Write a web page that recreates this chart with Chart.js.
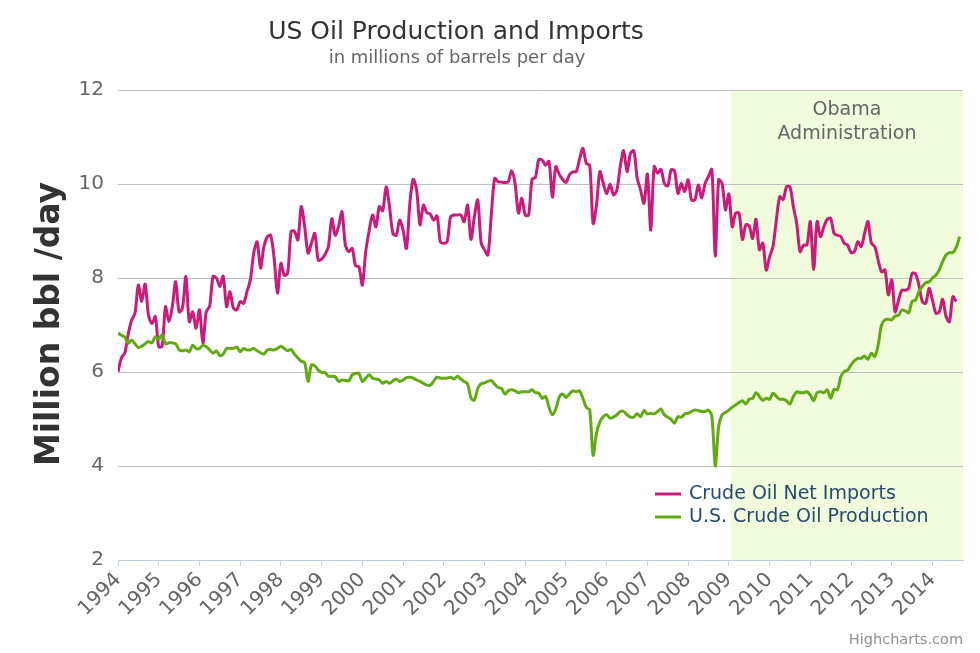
<!DOCTYPE html>
<html>
<head>
<meta charset="utf-8">
<script src="https://cdn.jsdelivr.net/npm/chart.js@4/dist/chart.umd.min.js"></script>
<style>
  html, body { margin: 0; padding: 0; background: #fff; }
</style>
</head>
<body>
<canvas id="oilChart" width="980" height="653"></canvas>
<script>
// monthly values, index 0 = Jan 1994
const yearLabels = ["1994", "1995", "1996", "1997", "1998", "1999", "2000", "2001", "2002", "2003", "2004",
  "2005", "2006", "2007", "2008", "2009", "2010", "2011", "2012", "2013", "2014"];
const yTicks = [2, 4, 6, 8, 10, 12];
const seriesNames = ["Crude Oil Net Imports", "U.S. Crude Oil Production"];

const netImports = [
  6.0, 6.3, 6.4, 6.8, 7.1, 7.25, 7.85, 7.5, 7.87, 7.2, 7.03, 7.18,
  6.54, 6.55, 7.39, 7.07, 7.39, 7.92, 7.28, 7.36, 8.03, 7.07, 7.28, 6.93,
  7.32, 6.61, 7.28, 7.4, 8.03, 8.0, 7.82, 8.04, 7.39, 7.71, 7.36, 7.32,
  7.5, 7.46, 7.71, 7.96, 8.53, 8.77, 8.21, 8.67, 8.88, 8.91, 8.42, 7.68,
  8.31, 8.06, 8.1, 8.99, 8.99, 8.81, 9.52, 9.09, 8.53, 8.74, 8.95, 8.38,
  8.4, 8.5, 8.67, 9.26, 8.91, 9.1, 9.41, 8.7, 8.56, 8.63, 8.26, 8.24,
  7.85, 8.56, 9.0, 9.34, 9.09, 9.52, 9.43, 9.94, 9.52, 8.95, 8.91, 9.23,
  9.02, 8.63, 9.59, 10.1, 9.87, 9.13, 9.55, 9.39, 9.36, 9.23, 9.32, 8.77,
  8.74, 8.78, 9.3, 9.34, 9.34, 9.34, 9.2, 9.55, 8.82, 9.3, 9.66, 8.75,
  8.6, 8.49, 9.34, 10.12, 10.05, 10.04, 10.03, 10.05, 10.28, 10.01, 9.38, 9.7,
  9.34, 9.34, 10.1, 10.14, 10.52, 10.51, 10.4, 10.48, 9.72, 10.37, 10.21, 10.1,
  10.03, 10.19, 10.26, 10.26, 10.53, 10.76, 10.44, 10.4, 9.16, 9.55, 10.26, 10.01,
  9.79, 10.0, 9.77, 9.87, 10.37, 10.71, 10.26, 10.65, 10.71, 10.12, 9.87, 9.59,
  10.21, 9.02, 10.37, 10.23, 10.31, 10.01, 9.96, 10.3, 10.28, 9.8, 10.01, 9.84,
  10.09, 9.66, 9.66, 9.98, 9.7, 10.01, 10.16, 10.31, 8.47, 10.09, 10.01, 9.45,
  9.79, 9.09, 9.38, 9.38, 8.82, 9.13, 9.11, 8.84, 9.25, 8.6, 8.74, 8.17,
  8.45, 8.67, 9.23, 9.73, 9.67, 9.94, 9.94, 9.52, 9.16, 8.56, 8.7, 8.7,
  9.2, 8.18, 9.2, 8.88, 9.09, 9.25, 9.27, 8.95, 8.91, 8.88, 8.74, 8.7,
  8.54, 8.56, 8.77, 8.67, 8.95, 9.2, 8.74, 8.67, 8.38, 8.13, 8.17, 7.64,
  7.96, 7.28, 7.53, 7.74, 7.74, 7.78, 8.1, 8.09, 7.85, 7.5, 7.46, 7.78,
  7.53, 7.25, 7.28, 7.55, 7.18, 7.07, 7.6, 7.5
];

const production = [
  6.83, 6.78, 6.74, 6.61, 6.68, 6.6, 6.52, 6.55, 6.6, 6.65, 6.62, 6.75,
  6.7, 6.79, 6.6, 6.62, 6.62, 6.6, 6.47, 6.45, 6.47, 6.43, 6.57, 6.5,
  6.5, 6.57, 6.54, 6.47, 6.4, 6.45, 6.35, 6.38, 6.5, 6.5, 6.5, 6.53,
  6.43, 6.5, 6.47, 6.47, 6.5, 6.45, 6.41, 6.38, 6.47, 6.48, 6.47, 6.5,
  6.55, 6.5, 6.45, 6.48, 6.38, 6.3, 6.23, 6.2, 5.8, 6.15, 6.13, 6.04,
  5.99, 5.99, 5.91, 5.91, 5.9, 5.8, 5.83, 5.82, 5.81, 5.94, 5.97, 5.97,
  5.8, 5.87, 5.94, 5.87, 5.85, 5.83, 5.76, 5.8, 5.76, 5.81, 5.85, 5.8,
  5.83, 5.88, 5.89, 5.87, 5.83, 5.8, 5.76, 5.72, 5.72, 5.8, 5.89, 5.87,
  5.87, 5.87, 5.89, 5.85, 5.91, 5.85, 5.8, 5.75, 5.45, 5.4, 5.65, 5.75,
  5.77, 5.8, 5.82, 5.74, 5.67, 5.65, 5.53, 5.6, 5.62, 5.6, 5.56, 5.58,
  5.58, 5.58, 5.62, 5.56, 5.55, 5.44, 5.48, 5.25, 5.09, 5.21, 5.46, 5.53,
  5.46, 5.53, 5.6, 5.58, 5.6, 5.44, 5.25, 5.19, 4.23, 4.7, 4.94, 5.05,
  5.09, 5.02, 5.04, 5.09, 5.16, 5.16, 5.09, 5.04, 5.04, 5.11, 5.05, 5.18,
  5.11, 5.12, 5.11, 5.16, 5.21, 5.09, 5.04, 4.99, 4.91, 5.05, 5.04, 5.11,
  5.12, 5.16, 5.19, 5.18, 5.16, 5.16, 5.19, 5.05, 4.0, 4.84, 5.09, 5.14,
  5.19, 5.25, 5.3, 5.35, 5.39, 5.32, 5.42, 5.44, 5.56, 5.48, 5.4, 5.44,
  5.42, 5.55, 5.48, 5.42, 5.42, 5.39, 5.32, 5.48, 5.58, 5.56, 5.56, 5.58,
  5.51, 5.39, 5.56, 5.58, 5.56, 5.62, 5.44, 5.63, 5.62, 5.9, 6.01, 6.04,
  6.15, 6.24, 6.29, 6.29, 6.34, 6.27, 6.4, 6.33, 6.57, 7.0, 7.11, 7.12,
  7.11, 7.19, 7.21, 7.32, 7.3, 7.26, 7.5, 7.53, 7.71, 7.82, 7.9, 7.92,
  8.0, 8.06, 8.17, 8.35, 8.49, 8.54, 8.54, 8.65, 8.88
];

// Jan 20 2009 in month index
const obamaStart = 180.6;
const lastMonth = 249;

const pink = "#CC1A7A";
const green = "#62AA12";
const FONT = "'DejaVu Sans', 'Lucida Grande', sans-serif";

const extras = {
  id: "extras",
  beforeDraw(chart) {
    const { ctx, chartArea, scales } = chart;
    const x0 = scales.x.getPixelForValue(obamaStart);
    ctx.save();
    ctx.fillStyle = "#F1FCDC";
    ctx.fillRect(x0, chartArea.top, chartArea.right - x0, chartArea.bottom - chartArea.top);
    ctx.restore();
  },
  afterDraw(chart) {
    const { ctx, chartArea, scales } = chart;
    ctx.save();
    ctx.textAlign = "center";
    ctx.textBaseline = "middle";

    // titles
    ctx.fillStyle = "#333";
    ctx.font = "25px " + FONT;
    ctx.fillText("US Oil Production and Imports", 456, 32);
    ctx.fillStyle = "#666";
    ctx.font = "18px " + FONT;
    ctx.fillText("in millions of barrels per day", 457, 58);

    // plot band label
    const x0 = scales.x.getPixelForValue(obamaStart);
    const bx = (x0 + chartArea.right) / 2;
    ctx.fillStyle = "#666";
    ctx.font = "19px " + FONT;
    ctx.fillText("Obama", bx, 110);
    ctx.fillText("Administration", bx, 134);

    // y axis title
    ctx.save();
    ctx.translate(50, 324);
    ctx.rotate(-Math.PI / 2);
    ctx.fillStyle = "#333";
    ctx.font = "bold 33px " + FONT;
    ctx.fillText("Million bbl /day", 0, 0);
    ctx.restore();

    // legend
    const colors = [pink, green];
    ctx.textAlign = "left";
    ctx.font = "19px " + FONT;
    seriesNames.forEach((name, i) => {
      const y = 494 + i * 23;
      ctx.strokeStyle = colors[i];
      ctx.lineWidth = 3;
      ctx.beginPath();
      ctx.moveTo(655, y);
      ctx.lineTo(681, y);
      ctx.stroke();
      ctx.fillStyle = "#274B6D";
      ctx.fillText(name, 689, y);
    });

    // credits
    ctx.textAlign = "right";
    ctx.fillStyle = "#909090";
    ctx.font = "14.5px " + FONT;
    ctx.fillText("Highcharts.com", 963, 640);
    ctx.restore();
  }
};

const ctx = document.getElementById("oilChart").getContext("2d");

const oilChart = new Chart(ctx, {
  type: "line",
  data: {
    datasets: [
      {
        label: seriesNames[0],
        data: netImports.map((v, i) => ({ x: i, y: v })),
        borderColor: pink,
        borderWidth: 3,
        pointRadius: 0,
        tension: 0.3,
        order: 1,
      },
      {
        label: seriesNames[1],
        data: production.map((v, i) => ({ x: i, y: v })),
        borderColor: green,
        borderWidth: 3,
        pointRadius: 0,
        tension: 0.3,
        order: 0,
      },
    ],
  },
  options: {
    responsive: false,
    animation: false,
    layout: { padding: { top: 90, right: 17, left: 0, bottom: 0 } },
    plugins: {
      legend: { display: false },
      title: { display: false },
      tooltip: { enabled: false },
    },
    scales: {
      x: {
        type: "linear",
        min: 0,
        max: lastMonth,
        afterBuildTicks: (scale) => {
          scale.ticks = yearLabels.map((l, i) => ({ value: i * 12 }));
        },
        afterFit: (scale) => { scale.height = 93; },
        ticks: {
          autoSkip: false,
          minRotation: 45,
          maxRotation: 45,
          padding: 2,
          color: "#666",
          font: { size: 20, family: FONT },
          callback: (v) => yearLabels[v / 12],
        },
        grid: {
          drawOnChartArea: false,
          drawTicks: true,
          tickLength: 6,
          color: "#C0D0E0",
        },
        border: { color: "#C0D0E0", width: 1 },
      },
      y: {
        min: 2,
        max: 12,
        afterBuildTicks: (scale) => {
          scale.ticks = yTicks.map((v) => ({ value: v }));
        },
        afterFit: (scale) => { scale.width = 118; },
        ticks: {
          padding: 14,
          color: "#666",
          font: { size: 20, family: FONT },
        },
        grid: { color: "#C0C0C0", lineWidth: 1, drawTicks: false },
        border: { display: false },
      },
    },
  },
  plugins: [extras],
});
</script>
</body>
</html>
